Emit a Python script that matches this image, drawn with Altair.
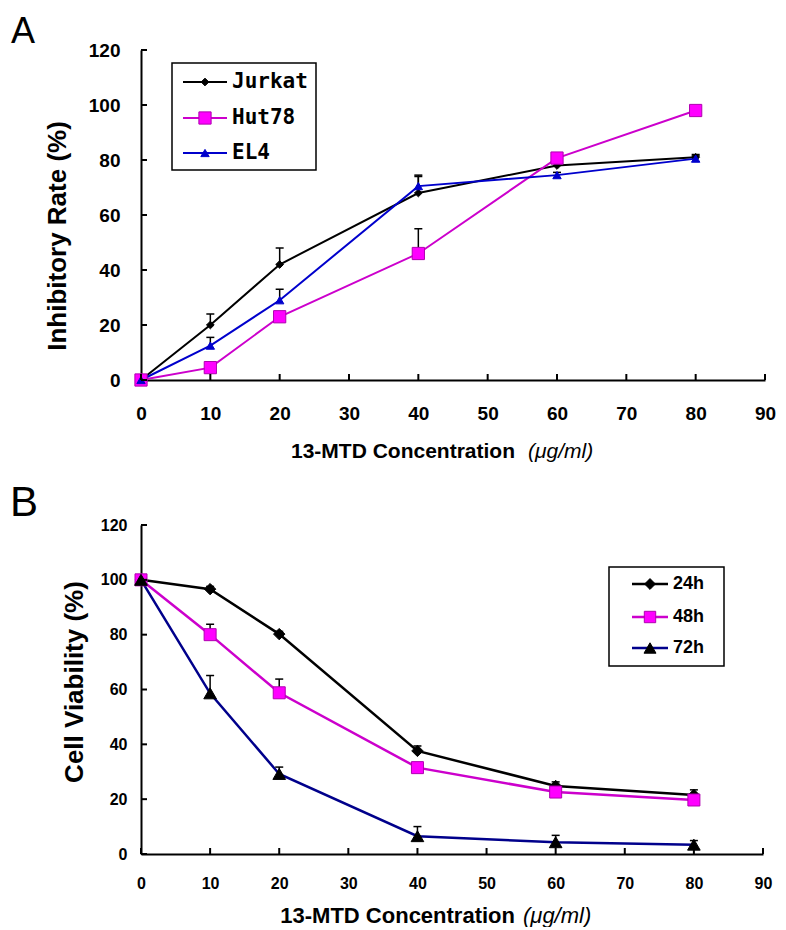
import altair as alt
import pandas as pd

# ---------------- data ----------------
conc = [0, 10, 20, 40, 60, 80]
x_ticks = [0, 10, 20, 30, 40, 50, 60, 70, 80, 90]
y_ticks = [0, 20, 40, 60, 80, 100, 120]

# Panel A: inhibitory rate (%)
a_series = ["Jurkat", "Hut78", "EL4"]
a_jurkat = [0, 20, 42, 68, 78, 81]
a_jurkat_err = [0, 4, 6, 6.5, 1.5, 1]
a_hut78 = [0, 4.5, 23, 46, 80.7, 98]
a_hut78_err = [0, 1, 1.5, 9, 1, 1]
a_el4 = [0, 12.5, 29, 70.5, 74.5, 80.5]
a_el4_err = [0, 3, 4, 3.5, 1, 1]

# Panel B: cell viability (%)
b_series = ["24h", "48h", "72h"]
b_24 = [100, 96.6, 80.2, 37.6, 24.8, 21.5]
b_24_err = [0, 1, 1, 1.8, 1.5, 1.9]
b_48 = [100, 80, 58.8, 31.5, 22.6, 19.7]
b_48_err = [0, 3.8, 5, 1, 1, 1]
b_72 = [100, 58.6, 29.2, 6.5, 4.3, 3.4]
b_72_err = [0, 6.5, 2.5, 3.5, 2.5, 1.5]

FONT = "Liberation Sans"


def build_df(series, values, errs):
    rows = []
    for name, vals, es in zip(series, values, errs):
        for c, v, e in zip(conc, vals, es):
            rows.append({"series": name, "conc": c, "value": v, "hi": v + e, "err": e})
    return pd.DataFrame(rows)


def panel(series, values, errs, line_colors, fills, strokes, shapes, sizes,
          W, H, tick_fs, xpad, ypad, line_w, legend, ytitle, ytitle_pos,
          xtitle_pos, xtitle_fs, letter, letter_pos, letter_fs):
    df = build_df(series, values, errs)
    xscale = alt.Scale(domain=[0, 90], nice=False, zero=False)
    yscale = alt.Scale(domain=[0, 120], nice=False, zero=False)
    xaxis = alt.Axis(values=x_ticks, title=None, tickSize=0, labelPadding=xpad,
                     labelFontSize=tick_fs, labelFont=FONT, labelFontWeight="bold",
                     labelColor="black", domainColor="black", domainWidth=2,
                     grid=False, labelFlush=False, labelOverlap=False)
    yaxis = alt.Axis(values=y_ticks, title=None, tickSize=0, labelPadding=ypad,
                     labelFontSize=tick_fs, labelFont=FONT, labelFontWeight="bold",
                     labelColor="black", domainColor="black", domainWidth=2,
                     grid=False, labelFlush=False, labelOverlap=False)
    base = alt.Chart(df)
    X = alt.X("conc:Q", scale=xscale, axis=xaxis)
    Y = alt.Y("value:Q", scale=yscale, axis=yaxis)

    layers = []
    # lines, one layer per series
    for i, name in enumerate(series):
        layers.append(base.transform_filter(alt.datum.series == name).mark_line(
            strokeWidth=line_w, color=line_colors[i]).encode(x=X, y=Y))

    errdf = base.transform_filter("datum.err > 0")
    layers.append(errdf.mark_rule(color="black", strokeWidth=1.5).encode(
        x=X, y=Y, y2="hi:Q"))
    layers.append(errdf.mark_rule(color="black", strokeWidth=1.5, xOffset=-4, x2Offset=4).encode(
        x=X, x2="conc:Q", y=alt.Y("hi:Q", scale=yscale, axis=yaxis)))

    # markers, one layer per series
    for i, name in enumerate(series):
        layers.append(base.transform_filter(alt.datum.series == name).mark_point(
            filled=True, opacity=1, shape=shapes[i], fill=fills[i], color=fills[i],
            stroke=strokes[i], strokeWidth=1, size=sizes[i]).encode(x=X, y=Y))

    xt = alt.Chart(pd.DataFrame({"t": x_ticks})).mark_rule(color="black", strokeWidth=2).encode(
        x=alt.X("t:Q", scale=xscale, axis=xaxis), y=alt.value(H), y2=alt.value(H - 6))
    yt = alt.Chart(pd.DataFrame({"t": y_ticks})).mark_rule(color="black", strokeWidth=2).encode(
        y=alt.Y("t:Q", scale=yscale, axis=yaxis), x=alt.value(0), x2=alt.value(6))
    layers += [xt, yt]

    one = pd.DataFrame({"k": [0]})

    # legend
    (bx0, by0, bx1, by1, lx0, lx1, tx, ys, lfont, lfs, lweight, msize_scale) = legend
    layers.append(alt.Chart(one).mark_rect(fill="white", stroke="black", strokeWidth=1.5).encode(
        x=alt.value(bx0), x2=alt.value(bx1), y=alt.value(by0), y2=alt.value(by1)))
    for i, name in enumerate(series):
        ent = pd.DataFrame({"label": [name]})
        layers.append(alt.Chart(ent).mark_rule(color=line_colors[i], strokeWidth=line_w).encode(
            x=alt.value(lx0), x2=alt.value(lx1), y=alt.value(ys[i])))
        layers.append(alt.Chart(ent).mark_point(filled=True, opacity=1, shape=shapes[i],
                                                fill=fills[i], color=fills[i], stroke=strokes[i],
                                                strokeWidth=1,
                                                size=sizes[i] * msize_scale).encode(
            x=alt.value((lx0 + lx1) / 2), y=alt.value(ys[i])))
        layers.append(alt.Chart(ent).mark_text(align="left", baseline="middle", font=lfont,
                                               fontSize=lfs, fontWeight=lweight, color="black").encode(
            x=alt.value(tx), y=alt.value(ys[i]), text="label:N"))

    # y title
    layers.append(alt.Chart(pd.DataFrame({"t": [ytitle]})).mark_text(
        angle=270, align="center", baseline="middle", font=FONT, fontSize=26,
        fontWeight="bold", color="black").encode(
        x=alt.value(ytitle_pos[0]), y=alt.value(ytitle_pos[1]), text="t:N"))
    # x title (bold part + italic part)
    layers.append(alt.Chart(pd.DataFrame({"t": ["13-MTD Concentration"]})).mark_text(
        align="right", baseline="alphabetic", font=FONT, fontSize=xtitle_fs,
        fontWeight="bold", color="black").encode(
        x=alt.value(xtitle_pos[0]), y=alt.value(xtitle_pos[2]), text="t:N"))
    layers.append(alt.Chart(pd.DataFrame({"t": ["(\u03bcg/ml)"]})).mark_text(
        align="left", baseline="alphabetic", font=FONT, fontSize=xtitle_fs,
        fontStyle="italic", color="black").encode(
        x=alt.value(xtitle_pos[1]), y=alt.value(xtitle_pos[2]), text="t:N"))
    # panel letter
    layers.append(alt.Chart(pd.DataFrame({"t": [letter]})).mark_text(
        align="left", baseline="alphabetic", font=FONT, fontSize=letter_fs,
        color="black").encode(
        x=alt.value(letter_pos[0]), y=alt.value(letter_pos[1]), text="t:N"))

    return alt.layer(*layers).properties(width=W, height=H)


panel_a = panel(
    a_series, [a_jurkat, a_hut78, a_el4], [a_jurkat_err, a_hut78_err, a_el4_err],
    line_colors=["#000000", "#cc00cc", "#0000cc"],
    fills=["#000000", "#ff00ff", "#0000cc"],
    strokes=["#000000", "#b000b0", "#0000cc"],
    shapes=["diamond", "square", "triangle-up"],
    sizes=[60, 150, 70],
    W=624, H=330, tick_fs=19, xpad=24, ypad=21, line_w=2,
    legend=(31, 13, 175, 120, 42, 86, 91, [32, 68, 103], "DejaVu Sans Mono", 21, "bold", 1.0),
    ytitle="Inhibitory Rate (%)", ytitle_pos=(-83, 186),
    xtitle_pos=(374, 387, 408), xtitle_fs=21,
    letter="A", letter_pos=(-130, -7), letter_fs=36,
)

panel_b = panel(
    b_series, [b_24, b_48, b_72], [b_24_err, b_48_err, b_72_err],
    line_colors=["#000000", "#cc00cc", "#00008b"],
    fills=["#000000", "#ff00ff", "#000000"],
    strokes=["#000000", "#b000b0", "#000000"],
    shapes=["diamond", "square", "triangle-up"],
    sizes=[130, 144, 160],
    W=622, H=329, tick_fs=16, xpad=21, ypad=14, line_w=2.5,
    legend=(468, 42, 583, 141, 491, 527, 532, [59, 92, 123], FONT, 18, "bold", 0.9),
    ytitle="Cell Viability (%)", ytitle_pos=(-66, 157),
    xtitle_pos=(374, 382, 398), xtitle_fs=22,
    letter="B", letter_pos=(-131, -9), letter_fs=42,
)

chart = alt.vconcat(panel_a, panel_b, spacing=20).properties(
    padding={"left": 2, "top": 6, "right": 0, "bottom": 0}
).configure_view(stroke=None)

chart.save("out.html", embed_options={"renderer": "svg", "actions": False})
